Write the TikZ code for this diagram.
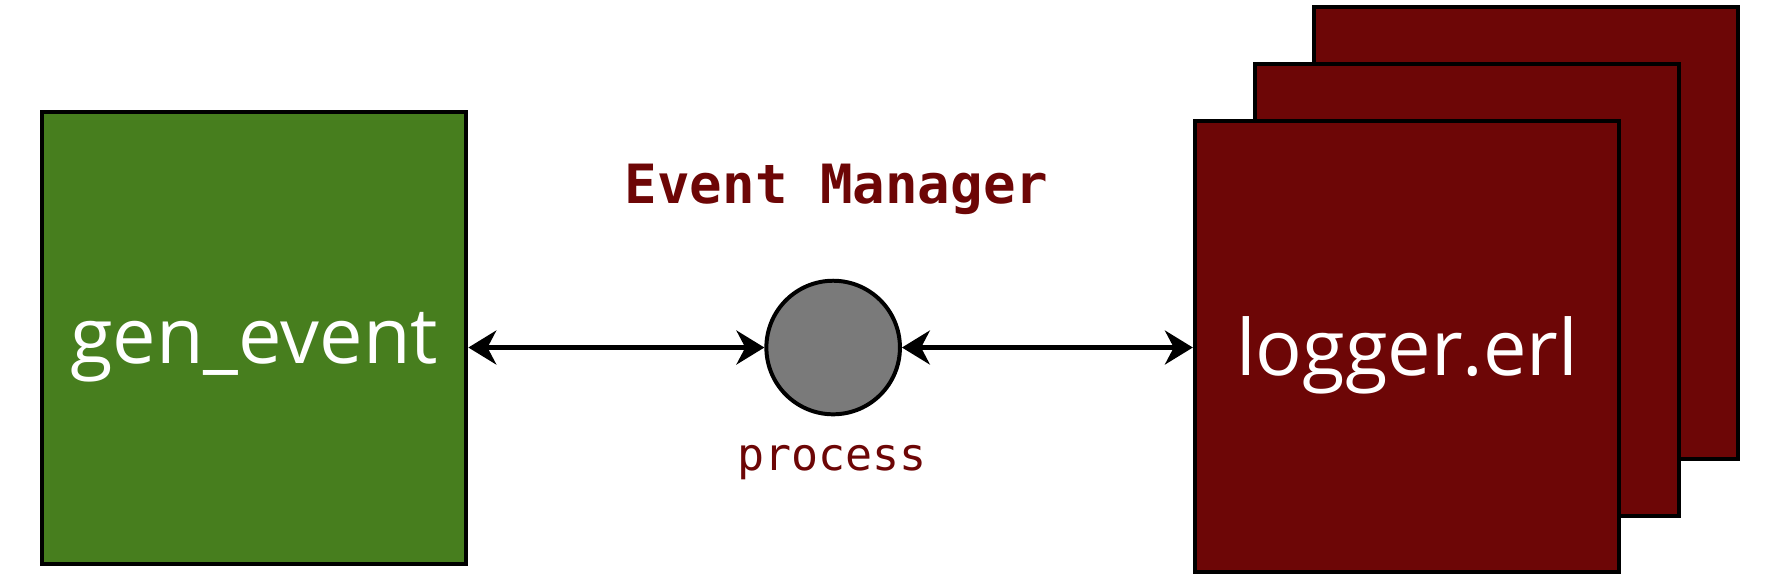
\documentclass[tikz,border=0pt]{standalone}
\usepackage{fontspec}
\setmainfont{Open Sans}
\setmonofont{DejaVu Sans Mono}
\usetikzlibrary{arrows.meta}

\definecolor{boxgreen}{HTML}{477E1E}
\definecolor{boxred}{HTML}{6D0606}
\definecolor{procgray}{HTML}{7A7A7A}

\tikzset{
	module/.style={draw=black, line width=1pt, minimum width=3.75cm, minimum height=3.99cm, inner sep=0pt, text depth=0pt, text=white, font=\fontsize{19.5}{23}\selectfont},
	msg/.style={<->, line width=1.2pt, >={Stealth[length=7pt, width=8.5pt, inset=2.2pt]}}
}

\begin{document}
\begin{tikzpicture}[x=0.1mm, y=-0.1mm]
	\useasboundingbox (0,0) rectangle (1568,508);
	
	% handler modules
	\foreach \i/\x/\y in {3/1348/206, 2/1296/256}
	\node[module, fill=boxred] (log\i) at (\x,\y) {};
	\node[module, fill=boxred] (log1) at (1243,306) {logger.erl};
	
	% generator
	\node[module, fill=boxgreen] (gen) at (224.5,298.5) {gen\_event};
	
	% event manager
	\node[circle, draw=black, line width=1pt, fill=procgray, minimum size=1.18cm, inner sep=0pt] (proc) at (736,307) {};
	\node[text=boxred, font=\fontsize{13.6}{16}\selectfont\ttfamily\bfseries] (manager) at (739,167) {Event Manager};
	\node[text=boxred, font=\fontsize{11.3}{14}\selectfont\ttfamily] (proclabel) at (735,409) {process};
	
	% messages
	\draw[msg] (gen.east |- proc.west) -- (proc.west);
	\draw[msg] (proc.east) -- (log1.west |- proc.east);
	
\end{tikzpicture}
\end{document}
